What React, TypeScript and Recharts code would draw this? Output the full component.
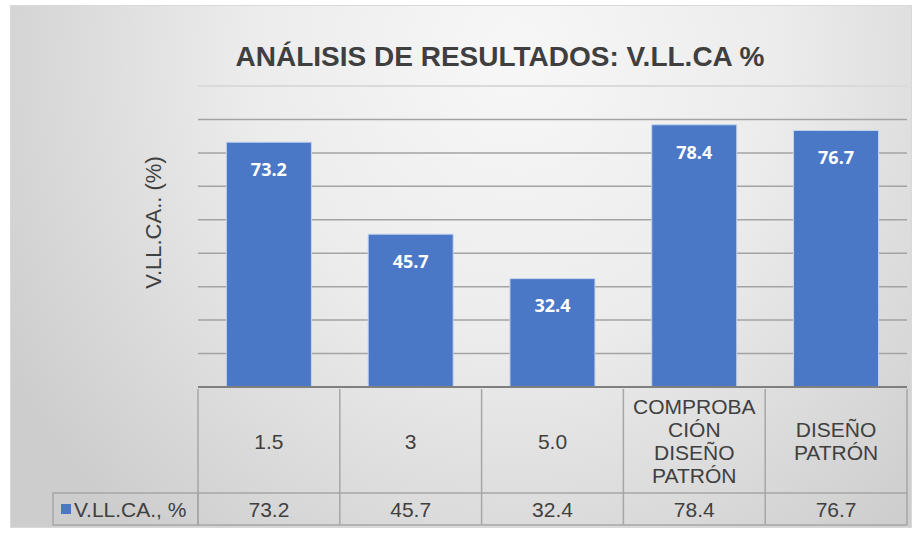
import React from "react";
import {
  BarChart,
  Bar,
  XAxis,
  YAxis,
  CartesianGrid,
  LabelList,
  ReferenceLine,
} from "recharts";

const categories = ["1.5", "3", "5.0", "COMPROBACIÓN DISEÑO PATRÓN", "DISEÑO PATRÓN"];
const categoryLines = [
  ["1.5"],
  ["3"],
  ["5.0"],
  ["COMPROBA", "CIÓN", "DISEÑO", "PATRÓN"],
  ["DISEÑO", "PATRÓN"],
];
const vllcaValues = [73.2, 45.7, 32.4, 78.4, 76.7];
const yTicks = [0, 10, 20, 30, 40, 50, 60, 70, 80, 90];
const seriesName = "V.LL.CA., %";

const chartData = categories.map((name, i) => ({ name, value: vllcaValues[i] }));

const FONT = "'Liberation Sans', Arial, sans-serif";
const TEXT = "#404040";
const BORDER = "#a6a6a6";
const BAR = "#4a77c6";
const BAND = 709 / 5;

function NoTick() {
  return <g />;
}

function TableTick(props: any) {
  const { x, y, index } = props;
  const left = x - BAND / 2;
  const right = x + BAND / 2;
  const lines = categoryLines[index] || [];
  const lh = 23;
  const headY = y + 54 - ((lines.length - 1) * lh) / 2;
  return (
    <g fontFamily={FONT} fontSize={21} fill={TEXT}>
      <line x1={left} y1={y + 2} x2={left} y2={y + 138} stroke={BORDER} strokeWidth={1.5} />
      {index === categories.length - 1 && (
        <line x1={right} y1={y + 2} x2={right} y2={y + 138} stroke={BORDER} strokeWidth={1.5} />
      )}
      <line x1={left} y1={y + 106} x2={right} y2={y + 106} stroke={BORDER} strokeWidth={1.5} />
      <line x1={left} y1={y + 138} x2={right} y2={y + 138} stroke={BORDER} strokeWidth={1.5} />
      {lines.map((t, i) => (
        <text key={i} x={x} y={headY + i * lh} textAnchor="middle" dominantBaseline="central">
          {t}
        </text>
      ))}
      <text x={x} y={y + 122} textAnchor="middle" dominantBaseline="central">
        {vllcaValues[index]}
      </text>
      {index === 0 && (
        <g>
          <rect x={left - 145} y={y + 106} width={145} height={32} fill="none" stroke={BORDER} strokeWidth={1.5} />
          <rect x={left - 137} y={y + 117} width={10} height={10} fill={BAR} />
          <text x={left - 124} y={y + 122} dominantBaseline="central">
            {seriesName}
          </text>
        </g>
      )}
    </g>
  );
}

function YTitle(props: any) {
  const vb = props.viewBox || { x: 0, y: 0, width: 0, height: 0 };
  const cx = vb.x + vb.width - 45;
  const cy = vb.y + vb.height / 2 - 14;
  return (
    <text
      x={cx}
      y={cy}
      transform={`rotate(-90, ${cx}, ${cy})`}
      textAnchor="middle"
      dominantBaseline="central"
      fontFamily={FONT}
      fontSize={22}
      fill={TEXT}
    >
      V.LL.CA.. (%)
    </text>
  );
}

export default function App() {
  return (
    <div style={{ position: "absolute", left: 0, top: 0, width: 922, height: 536, background: "#fff" }}>
      <div
        style={{
          position: "absolute",
          left: 10,
          top: 5,
          width: 900,
          height: 521,
          border: "1px solid #d9d9d9",
          background:
            "radial-gradient(ellipse 65% 120% at 56% 10%, #f7f7f7 0%, #ececec 45%, #cdcdcd 100%)",
        }}
      />
      <div
        style={{
          position: "absolute",
          left: 200,
          top: 38,
          width: 600,
          textAlign: "center",
          fontFamily: FONT,
          fontWeight: "bold",
          fontSize: 28,
          color: "#3f3f3f",
          lineHeight: "38px",
        }}
      >
        ANÁLISIS DE RESULTADOS: V.LL.CA %
      </div>
      <div style={{ position: "absolute", left: 10, top: 5 }}>
        <BarChart
          width={902}
          height={523}
          data={chartData}
          margin={{ top: 81, right: 5, bottom: 3, left: 10 }}
          barCategoryGap="20%"
        >
          <CartesianGrid vertical={false} stroke="#a3a3a3" strokeWidth={1.5} />
          <ReferenceLine y={90} stroke="#dadada" strokeWidth={2} />
          <YAxis
            domain={[0, 90]}
            ticks={yTicks}
            tick={<NoTick />}
            axisLine={false}
            tickLine={false}
            width={178}
            label={<YTitle />}
          />
          <XAxis
            dataKey="name"
            interval={0}
            height={138}
            tickLine={false}
            tickSize={0}
            tickMargin={0}
            axisLine={{ stroke: "#7f7f7f", strokeWidth: 2 }}
            tick={<TableTick />}
          />
          <Bar dataKey="value" fill={BAR} stroke="#c3d3ee" strokeWidth={1} isAnimationActive={false}>
            <LabelList
              dataKey="value"
              position="insideTop"
              offset={21}
              fill="#ffffff"
              fontSize={18}
              fontWeight="bold"
              fontFamily="'Open Sans', sans-serif"
            />
          </Bar>
        </BarChart>
      </div>
    </div>
  );
}
